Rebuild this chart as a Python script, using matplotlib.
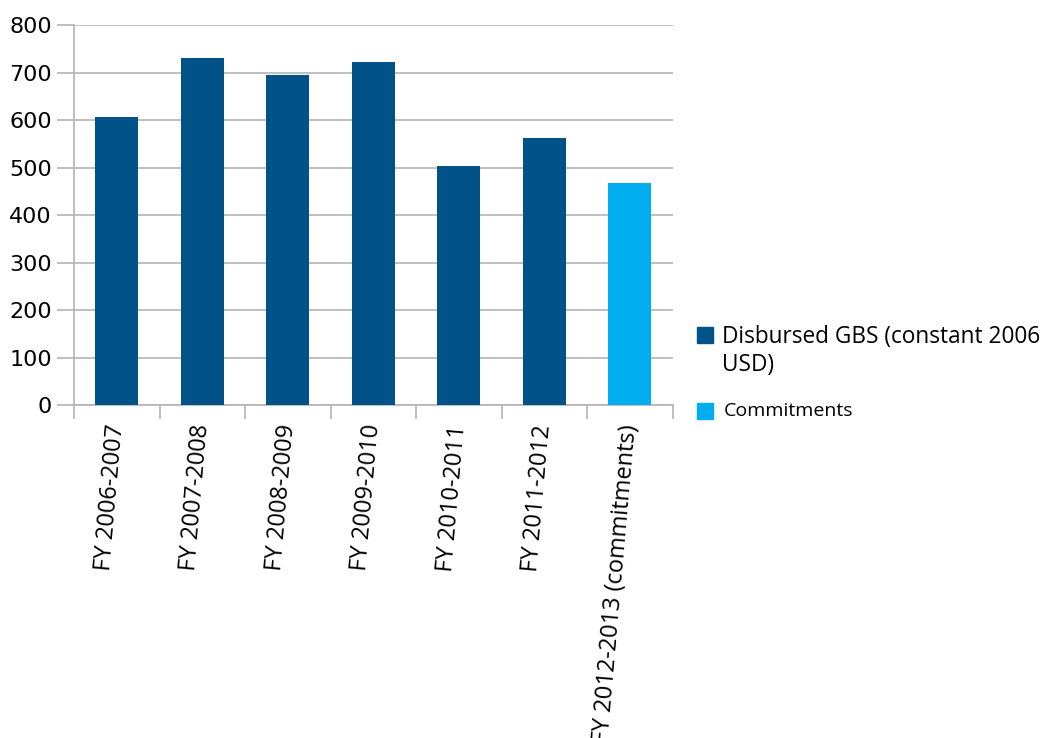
import numpy as np
import matplotlib.pyplot as plt
from matplotlib.patches import Rectangle

years = ['FY 2006-2007', 'FY 2007-2008', 'FY 2008-2009', 'FY 2009-2010',
         'FY 2010-2011', 'FY 2011-2012', 'FY 2012-2013 (commitments)']
disbursed = [606, 730, 695, 722, 503, 562]   # constant 2006 USD
commitments = [467]

dark = '#02528a'
light = '#00aeef'
grey = '#b4b4b4'

fig = plt.figure(figsize=(10.53, 7.38), dpi=100)
ax = fig.add_axes([0.0703, 0.4512, 0.5684, 0.5149])

x = np.arange(len(years))
ax.bar(x[:len(disbursed)], disbursed, width=0.5, color=dark, zorder=3)
ax.bar(x[len(disbursed):], commitments, width=0.5, color=light, zorder=3)

ax.set_xlim(-0.5, len(years) - 0.5)
ax.set_ylim(0, 800)
ax.set_yticks(range(0, 801, 100))
ax.yaxis.grid(True, color=grey, linewidth=1.2, zorder=0)
ax.tick_params(axis='y', length=12, width=1.2, color=grey, labelsize=16, pad=4)

# ticks between categories, labels under the bars
ax.set_xticks(np.arange(-0.5, len(years), 1.0))
ax.set_xticklabels([])
ax.set_xticks(x, minor=True)
ax.set_xticklabels(years, minor=True, rotation=85, ha='right', va='center',
                   rotation_mode='anchor', fontsize=17, family='Open Sans')
ax.tick_params(axis='x', which='major', length=10, width=1.2, color=grey)
ax.tick_params(axis='x', which='minor', length=0, pad=14)

for side in ['top', 'right']:
    ax.spines[side].set_visible(False)
for side in ['left', 'bottom']:
    ax.spines[side].set_color(grey)
    ax.spines[side].set_linewidth(1.2)

# legend on the right
fig.add_artist(Rectangle((697 / 1053, 1 - 343 / 738), 16 / 1053, 16 / 738,
                         transform=fig.transFigure, color=dark))
fig.text(722 / 1053, 1 - 325 / 738, 'Disbursed GBS (constant 2006\nUSD)',
         fontsize=16.3, family='Open Sans', va='top', ha='left',
         linespacing=1.2)
fig.add_artist(Rectangle((697 / 1053, 1 - 419 / 738), 16 / 1053, 16 / 738,
                         transform=fig.transFigure, color=light))
fig.text(724 / 1053, 1 - 411 / 738, 'Commitments', fontsize=14,
         family='Open Sans', va='center', ha='left')

fig.savefig('out.png', dpi=100)
